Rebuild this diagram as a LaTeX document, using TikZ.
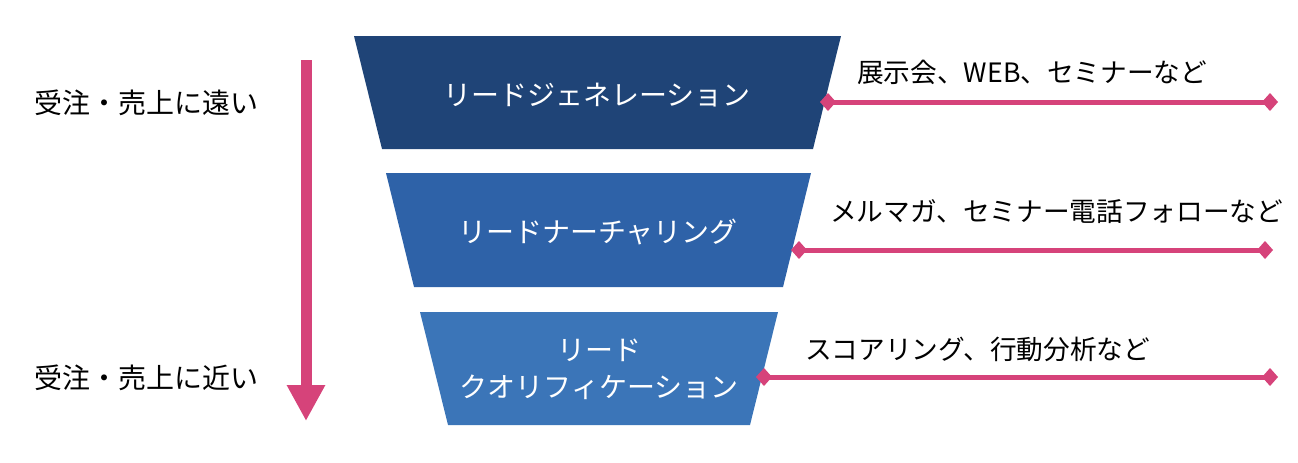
\documentclass[tikz,border=0pt]{standalone}
\usepackage{fontspec}
\setmainfont{Noto Sans CJK JP}
\usepackage{xcolor}
\usetikzlibrary{arrows.meta,positioning}
\definecolor{funneltop}{HTML}{1F4477}
\definecolor{funnelmid}{HTML}{2E62A8}
\definecolor{funnellow}{HTML}{3B75B8}
\definecolor{linkpink}{HTML}{D6437A}

\begin{document}
\begin{tikzpicture}[x=0.75pt, y=-0.75pt,
    stagetext/.style={inner sep=0pt, text=white, font=\fontsize{21}{28}\selectfont, align=center},
    note/.style={anchor=west, inner sep=0pt, font=\fontsize{20}{24}\selectfont},
    side/.style={inner sep=0pt, font=\fontsize{21}{24}\selectfont},
    link/.style={draw=linkpink, line width=3.75pt, {Diamond[length=12pt,width=13.5pt]}-{Diamond[length=12pt,width=13.5pt]}}
]
\useasboundingbox (0,0) rectangle (1298,462);

% funnel stages
\fill[funneltop] (354,36) -- (841,36) -- (813,149) -- (382,149) -- cycle;
\fill[funnelmid] (386,173) -- (811,173) -- (783,287) -- (414,287) -- cycle;
\fill[funnellow] (420,312) -- (778,312) -- (750,425) -- (448,425) -- cycle;

\node[stagetext] (gen) at (597,95) {リードジェネレーション};
\node[stagetext] (nur) at (598,232) {リードナーチャリング};
\node[stagetext] (qual) at (599,369) {リード\\クオリフィケーション};

% connector ends
\coordinate (genstart) at (820,102);
\coordinate (genend) at (1278,102);
\coordinate (nurstart) at (791,250);
\coordinate (nurend) at (1273,250);
\coordinate (qualstart) at (756,377);
\coordinate (qualend) at (1278,377);

\draw[link] (genstart) -- (genend);
\draw[link] (nurstart) -- (nurend);
\draw[link] (qualstart) -- (qualend);

\node[note] (genlbl) at (857,72) {展示会、WEB、セミナーなど};
\node[note] (nurlbl) at (830,212) {メルマガ、セミナー電話フォローなど};
\node[note] (quallbl) at (805,349) {スコアリング、行動分析など};

% left side
\node[side] (far) at (146,103) {受注・売上に遠い};
\node[side] (near) at (146,378) {受注・売上に近い};
\coordinate (arrtop) at (306,60);
\coordinate (arrtip) at (306,421);
\draw[linkpink, line width=8.25pt, -{Triangle[length=27pt,width=27pt]}] (arrtop) -- (arrtip);
\end{tikzpicture}
\end{document}
